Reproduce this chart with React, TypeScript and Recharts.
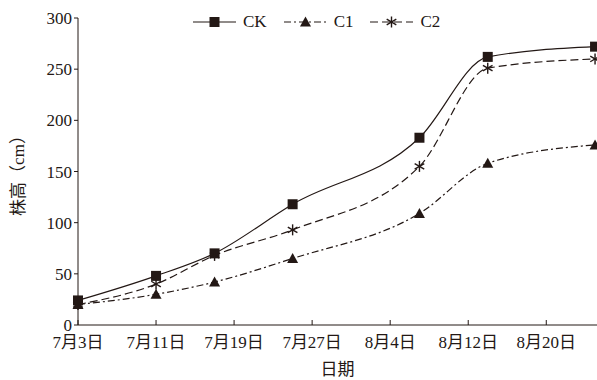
import React from 'react';
import { LineChart, Line, XAxis, YAxis } from 'recharts';

const dates = ['7-03', '7-11', '7-17', '7-25', '8-07', '8-14', '8-25'];
const ck = [24, 48, 70, 118, 183, 262, 272];
const c1 = [20, 30, 42, 65, 109, 158, 176];
const c2 = [20, 40, 68, 93, 155, 251, 260];
const tickDates = ['7-03', '7-11', '7-19', '7-27', '8-04', '8-12', '8-20'];
const yTicks = [0, 50, 100, 150, 200, 250, 300];

const INK = '#231815';
const FONT = '"Liberation Serif", "Times New Roman", "Noto Sans CJK SC", serif';

const toDay = (d: string) => {
  const [m, day] = d.split('-').map(Number);
  return (Date.UTC(2020, m - 1, day) - Date.UTC(2020, 6, 3)) / 86400000;
};
const fmtDay = (v: number) => {
  const dt = new Date(Date.UTC(2020, 6, 3) + v * 86400000);
  return `${dt.getUTCMonth() + 1}月${dt.getUTCDate()}日`;
};

const data = dates.map((d, i) => ({ day: toDay(d), CK: ck[i], C1: c1[i], C2: c2[i] }));

const Square = ({ cx, cy }: any) => <rect x={cx - 5} y={cy - 5} width={10} height={10} fill={INK} />;
const Tri = ({ cx, cy }: any) => (
  <polygon points={`${cx},${cy - 5.5} ${cx + 5.5},${cy + 4.5} ${cx - 5.5},${cy + 4.5}`} fill={INK} />
);
const Star = ({ cx, cy }: any) => (
  <g stroke={INK} strokeWidth={1.4}>
    <line x1={cx} y1={cy - 5.5} x2={cx} y2={cy + 5.5} />
    <line x1={cx - 4.8} y1={cy - 2.8} x2={cx + 4.8} y2={cy + 2.8} />
    <line x1={cx - 4.8} y1={cy + 2.8} x2={cx + 4.8} y2={cy - 2.8} />
  </g>
);

const series = [
  { key: 'CK', dash: undefined, Marker: Square },
  { key: 'C1', dash: '7 3 2 3', Marker: Tri },
  { key: 'C2', dash: '8 4', Marker: Star },
];

// legend drawn as an overlay so it doesn't push the plot down
const LegendBox = () => (
  <div
    style={{
      position: 'absolute', left: 193, top: 12,
      display: 'flex', alignItems: 'center', fontFamily: FONT, fontSize: 17, color: INK,
    }}
  >
    {series.map(({ key, dash, Marker }) => (
      <div key={key} style={{ display: 'flex', alignItems: 'center', marginRight: 17 }}>
        <svg width={43} height={14}>
          <line x1={0} y1={7} x2={43} y2={7} stroke={INK} strokeWidth={1.2} strokeDasharray={dash} />
          <Marker cx={21.5} cy={7} />
        </svg>
        <span style={{ marginLeft: 7 }}>{key}</span>
      </div>
    ))}
  </div>
);

export default function App() {
  return (
    <div style={{ position: 'absolute', left: 0, top: 0, width: 597, height: 380, background: '#fff' }}>
      <LineChart width={597} height={380} data={data} margin={{ top: 18, right: 0, left: 0, bottom: 0 }}>
        <XAxis
          dataKey="day"
          type="number"
          domain={[0, 53.2]}
          ticks={tickDates.map(toDay)}
          tickFormatter={fmtDay}
          height={55}
          stroke={INK}
          tickSize={-5}
          tickMargin={16}
          tick={{ fill: INK, fontSize: 17, fontFamily: FONT }}
          label={{ value: '日期', position: 'insideBottom', offset: 5, fill: INK, fontSize: 17, fontFamily: FONT }}
        />
        <YAxis
          domain={[0, 300]}
          ticks={yTicks}
          width={78}
          stroke={INK}
          tickSize={4}
          tickMargin={2}
          tick={{ fill: INK, fontSize: 17, fontFamily: FONT }}
          label={{
            value: '株高（cm）',
            angle: -90,
            position: 'insideLeft',
            offset: 18,
            textAnchor: 'middle',
            fill: INK,
            fontSize: 17,
            fontFamily: FONT,
          }}
        />
        {series.map(({ key, dash, Marker }) => (
          <Line
            key={key}
            dataKey={key}
            type="monotone"
            stroke={INK}
            strokeWidth={1.2}
            strokeDasharray={dash}
            isAnimationActive={false}
            dot={(p: any) => <Marker key={`${key}-${p.index}`} cx={p.cx} cy={p.cy} />}
            activeDot={false}
          />
        ))}
      </LineChart>
      <LegendBox />
    </div>
  );
}
